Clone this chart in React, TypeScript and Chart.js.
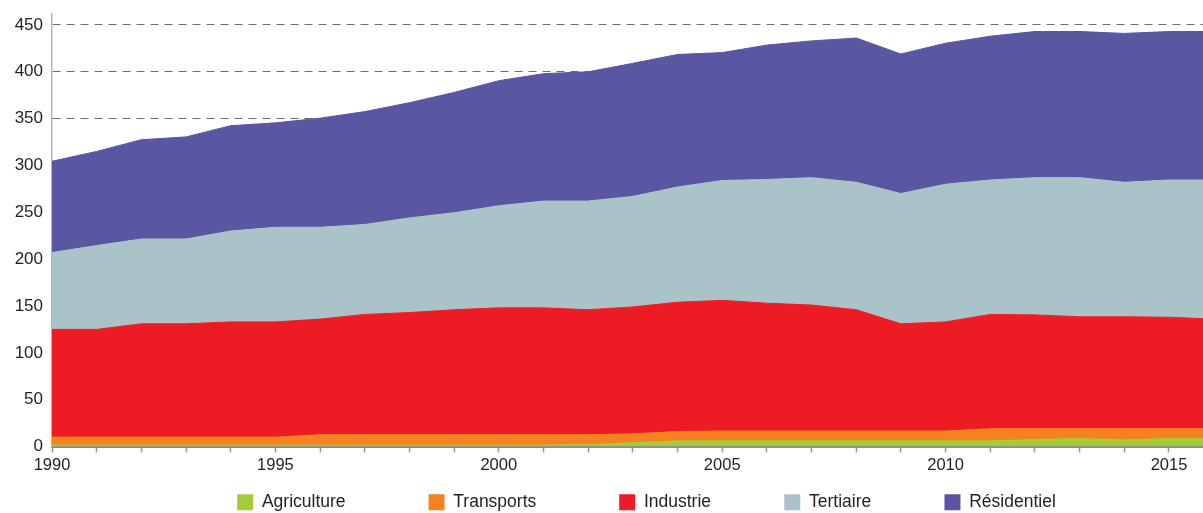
import React, { useEffect, useRef } from "react";
import { Chart, registerables } from "chart.js";

Chart.register(...registerables);

const years = [1990, 1991, 1992, 1993, 1994, 1995, 1996, 1997, 1998, 1999, 2000, 2001, 2002, 2003, 2004, 2005, 2006, 2007, 2008, 2009, 2010, 2011, 2012, 2013, 2014, 2015, 2016];

const agriculture = [1.5, 1.5, 1.5, 1.5, 1.5, 1.5, 1.5, 1.5, 1.5, 1.5, 1.5, 1.5, 2, 4, 6, 6, 6, 6, 6, 6, 6, 6, 7.5, 8.5, 7, 8.5, 8.5];
const transports = [8.5, 8.5, 8.5, 8.5, 8.5, 8.5, 11, 11, 11, 11, 11, 11, 10.5, 9.5, 10, 10.5, 10.5, 10.5, 10.5, 10.5, 10.5, 13, 11.5, 10.5, 12, 10.5, 10.5];
const industrie = [115, 115, 121, 121, 123, 123, 123.5, 128.5, 130.5, 133.5, 135.5, 135.5, 133.5, 135.5, 138, 139.5, 136.5, 134.5, 129.5, 114.5, 116.5, 122, 121.5, 119.5, 119.5, 119, 117];
const tertiaire = [82, 89.5, 90.5, 90.5, 97, 101, 98, 96, 101, 103.5, 109, 114, 116, 118, 123, 128, 132, 136, 136, 139, 147, 143.5, 146.5, 148.5, 143.5, 146.5, 148.5];
const residentiel = [97.5, 100.5, 106, 109, 112.5, 111.5, 116.5, 120.5, 123, 128.5, 133.5, 136, 138, 142, 141.5, 136.5, 143.5, 146, 154, 149, 150.5, 153.5, 156, 156, 159, 158.5, 158.5];

const seriesNames = ["Agriculture", "Transports", "Industrie", "Tertiaire", "Résidentiel"];
const seriesValues = [agriculture, transports, industrie, tertiaire, residentiel];
const seriesColors = ["#A5CB3B", "#F5821F", "#ED1C24", "#AAC3C8", "#5A56A2"];

const yTickValues = [0, 50, 100, 150, 200, 250, 300, 350, 400, 450];
const xLabelEvery = 5;

// trailing gap (in spaces) after each legend entry
const legendGaps = [15, 15, 13, 13, 0];

const FONT = "'Liberation Sans', Arial, Helvetica, sans-serif";
const TEXT = "#231F20";

export default function App() {
  const ref = useRef<HTMLCanvasElement | null>(null);

  useEffect(() => {
    document.body.style.margin = "0";
    const canvas = ref.current;
    if (!canvas) return;

    const datasets = seriesNames.map((name, i) => ({
      label: name,
      data: years.map((yr, j) => ({ x: yr, y: seriesValues[i][j] })),
      backgroundColor: seriesColors[i],
      borderColor: seriesColors[i],
      borderWidth: 1,
      pointRadius: 0,
      pointHoverRadius: 0,
      tension: 0,
      fill: i === 0 ? "origin" : "-1",
    }));

    const chart = new Chart(canvas, {
      type: "line",
      data: { datasets },
      options: {
        animation: false,
        responsive: false,
        devicePixelRatio: 1,
        layout: { padding: { top: 14, right: 0, left: 0, bottom: 0 } },
        plugins: {
          tooltip: { enabled: false },
          legend: {
            position: "bottom",
            labels: {
              boxWidth: 16,
              boxHeight: 16,
              padding: 10,
              color: TEXT,
              font: { family: FONT, size: 17.5 },
              generateLabels: (c: any) => {
                const items = Chart.defaults.plugins.legend.labels.generateLabels(c);
                return items.map((it: any, idx: number) => ({
                  ...it,
                  text: it.text + " ".repeat(legendGaps[idx] || 0),
                  lineWidth: 0,
                }));
              },
            },
          },
        },
        scales: {
          x: {
            type: "linear",
            min: 1990,
            max: 1990 + (1293 - 52) / 44.68,
            afterFit: (s: any) => {
              s.height = 37;
            },
            border: { display: true, color: "#8E8E8E", width: 2 },
            grid: {
              drawOnChartArea: false,
              drawTicks: true,
              tickLength: 6,
              tickColor: "#9A9A9A",
              tickWidth: 1.5,
            },
            ticks: {
              stepSize: 1,
              autoSkip: false,
              includeBounds: false,
              maxRotation: 0,
              padding: 3,
              color: TEXT,
              font: { family: FONT, size: 16.5 },
              callback: (v: any) => (Number(v) % xLabelEvery === 0 ? String(v) : ""),
            },
          },
          y: {
            stacked: true,
            min: 0,
            max: 461.7,
            afterFit: (s: any) => {
              s.width = 52;
              s.paddingTop = 0;
              s.paddingBottom = 0;
            },
            afterBuildTicks: (s: any) => {
              s.ticks = yTickValues.map((v) => ({ value: v }));
            },
            border: { display: true, color: "#B4B4B4", width: 1.5, dash: [8, 6] },
            grid: {
              drawTicks: false,
              color: (ctx: any) => (ctx.tick && ctx.tick.value === 0 ? "rgba(0,0,0,0)" : "#6E6E6E"),
              lineWidth: 1,
            },
            ticks: {
              padding: 9,
              color: TEXT,
              font: { family: FONT, size: 17 },
            },
          },
        },
      },
    } as any);

    return () => chart.destroy();
  }, []);

  return (
    <div style={{ position: "absolute", left: 0, top: 0, width: 1203, height: 513, overflow: "hidden", background: "#fff" }}>
      <canvas ref={ref} width={1293} height={521} style={{ width: 1293, height: 521, display: "block" }} />
    </div>
  );
}
